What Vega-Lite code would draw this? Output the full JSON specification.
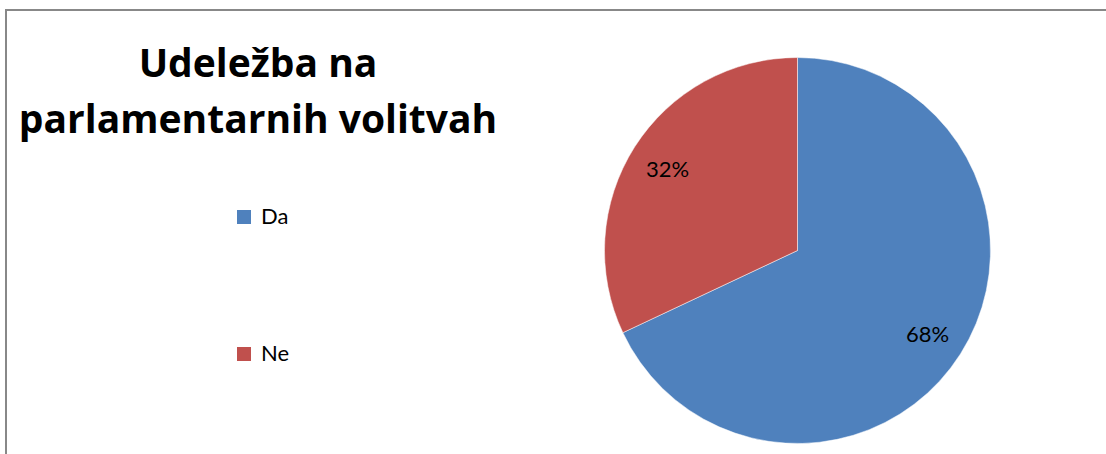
{
  "$schema": "https://vega.github.io/schema/vega-lite/v6.json",
  "usermeta": {"embedOptions": {"actions": false}},
  "autosize": "none",
  "width": 1583,
  "height": 481,
  "padding": {"left": 6, "top": 10, "right": -483, "bottom": -37},
  "background": "#ffffff",
  "view": {"stroke": "#888888", "strokeWidth": 2, "fill": "#ffffff"},
  "config": {
    "font": "Lato"
  },
  "title": {
    "text": ["Udeležba na", "parlamentarnih volitvah"],
    "font": "Open Sans",
    "fontSize": 39,
    "fontWeight": "bold",
    "color": "#000000",
    "anchor": "start",
    "frame": "group",
    "align": "center",
    "baseline": "alphabetic",
    "lineHeight": 56,
    "offset": 0,
    "dx": 252,
    "dy": 162
  },
  "data": {
    "values": [
      {"category": "Da", "value": 0.68},
      {"category": "Ne", "value": 0.32}
    ]
  },
  "layer": [
    {
      "mark": {"type": "arc", "outerRadius": 193, "stroke": "#ffffff", "strokeWidth": 0.5},
      "encoding": {
        "theta": {"field": "value", "type": "quantitative", "stack": true},
        "order": {"field": "category", "type": "nominal", "sort": "ascending"},
        "color": {
          "field": "category",
          "type": "nominal",
          "scale": {"domain": ["Da", "Ne"], "range": ["#4F81BD", "#C0504D"]},
          "legend": {
            "title": null,
            "orient": "none",
            "legendX": 227,
            "legendY": 196,
            "symbolType": "square",
            "symbolSize": 196,
            "symbolStrokeWidth": 0,
            "labelFont": "Lato",
            "labelFontSize": 22,
            "labelColor": "#000000",
            "labelOffset": 6,
            "rowPadding": 115
          }
        }
      }
    },
    {
      "mark": {"type": "text", "radius": 154, "font": "Lato", "fontSize": 22, "color": "#000000", "dy": 2},
      "encoding": {
        "theta": {"field": "value", "type": "quantitative", "stack": true},
        "order": {"field": "category", "type": "nominal", "sort": "ascending"},
        "detail": {"field": "category", "type": "nominal"},
        "text": {"field": "value", "type": "quantitative", "format": ".0%"}
      }
    }
  ]
}
